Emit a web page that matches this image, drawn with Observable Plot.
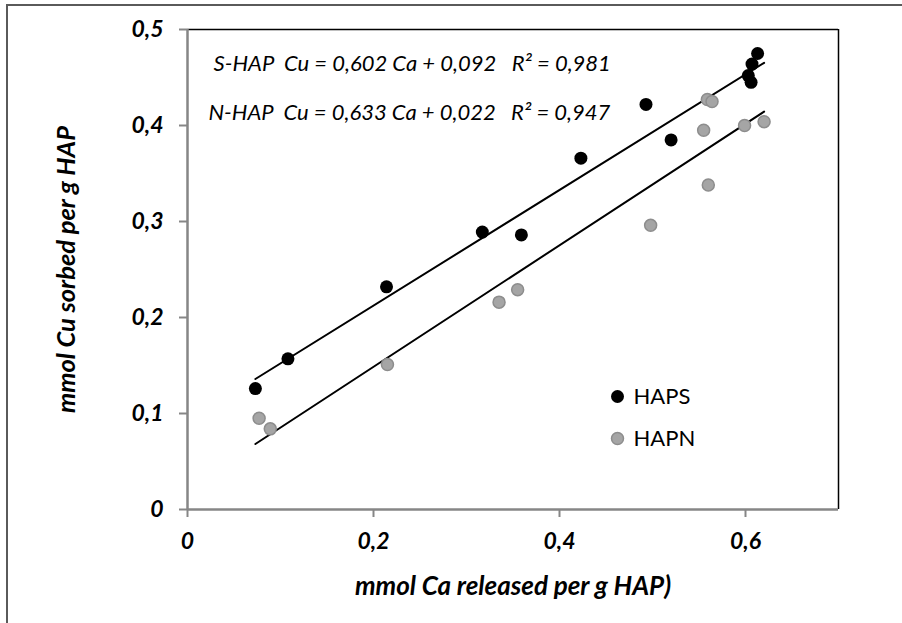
<!DOCTYPE html>
<html>
<head>
<meta charset="utf-8">
<script src="https://cdn.jsdelivr.net/npm/d3@7"></script>
<script src="https://cdn.jsdelivr.net/npm/@observablehq/plot@0.6"></script>
<style>
  html, body { margin: 0; padding: 0; background: #fff; overflow: hidden; }
  #wrap { position: relative; width: 902px; height: 623px; overflow: hidden; }
  #border { position: absolute; left: 6px; top: 4px; width: 1200px; height: 1200px;
            border-left: 2px solid #5a5a5a; border-top: 2px solid #5a5a5a; }
  #chart { position: absolute; left: 0; top: 0; }
</style>
</head>
<body>
<div id="wrap"><div id="border"></div><div id="chart"></div></div>
<script>
// ---- data ----
const hapsCa = [0.073, 0.108, 0.214, 0.317, 0.359, 0.423, 0.493, 0.520, 0.603, 0.606, 0.607, 0.613];
const hapsCu = [0.126, 0.157, 0.232, 0.289, 0.286, 0.366, 0.422, 0.385, 0.452, 0.445, 0.464, 0.475];
const hapnCa = [0.077, 0.089, 0.215, 0.335, 0.355, 0.498, 0.555, 0.560, 0.559, 0.564, 0.599, 0.620];
const hapnCu = [0.095, 0.084, 0.151, 0.216, 0.229, 0.296, 0.395, 0.338, 0.427, 0.425, 0.400, 0.404];

const seriesNames = ["HAPS", "HAPN"];
const fitNames = ["S-HAP", "N-HAP"];
const fitSlope = [0.602, 0.633];
const fitIntercept = [0.092, 0.022];
const fitXRange = [0.073, 0.620];
const equationLabels = [
  "S-HAP\u00A0\u00A0Cu = 0,602 Ca + 0,092\u00A0\u00A0\u00A0R² = 0,981",
  "N-HAP\u00A0\u00A0Cu = 0,633 Ca + 0,022\u00A0\u00A0\u00A0R² = 0,947"
];
const xTicks = [0, 0.2, 0.4, 0.6];
const yTicks = [0, 0.1, 0.2, 0.3, 0.4, 0.5];
const xTitle = "mmol Ca released per g HAP)";
const yTitle = "mmol Cu sorbed per g HAP";

// ---- tables built from the arrays ----
const haps = hapsCa.map((ca, i) => ({ca, cu: hapsCu[i], series: seriesNames[0]}));
const hapn = hapnCa.map((ca, i) => ({ca, cu: hapnCu[i], series: seriesNames[1]}));
const fits = fitNames.flatMap((name, k) =>
  fitXRange.map(x => ({name, ca: x, cu: fitSlope[k] * x + fitIntercept[k]})));

const fmt = d => d === 0 ? "0" : String(+d.toFixed(1)).replace(".", ",");
const FONT = "Lato, 'Open Sans', Arial, sans-serif";
const AXIS = "#868686";

const chart = Plot.plot({
  width: 902,
  height: 623,
  marginLeft: 187,
  marginRight: 64,
  marginTop: 29,
  marginBottom: 114,
  style: {fontFamily: FONT, background: "transparent", overflow: "visible"},
  x: {domain: [0, 0.7]},
  y: {domain: [0, 0.5]},
  marks: [
    // plot frame: top and right in black, axes in grey
    Plot.ruleY([0.5], {stroke: "#000", strokeWidth: 1.5}),
    Plot.ruleX([0.7], {stroke: "#000", strokeWidth: 1.5}),
    Plot.axisX({ticks: xTicks, tickFormat: fmt, tickSize: 8, tickPadding: 15,
      stroke: AXIS, strokeWidth: 2, fontSize: 23, fontWeight: "bold", fontStyle: "italic",
      fill: "#000", label: null}),
    Plot.axisY({ticks: yTicks, tickFormat: fmt, tickSize: 8, tickPadding: 16,
      stroke: AXIS, strokeWidth: 2, fontSize: 23, fontWeight: "bold", fontStyle: "italic",
      fill: "#000", label: null}),
    Plot.ruleY([0], {stroke: AXIS, strokeWidth: 2.5}),
    Plot.ruleX([0], {stroke: AXIS, strokeWidth: 2.5}),
    // axis titles
    Plot.text([xTitle], {frameAnchor: "bottom", dy: 77, lineAnchor: "middle", textAnchor: "middle",
      fontSize: 26, fontWeight: "bold", fontStyle: "italic", fill: "#000"}),
    Plot.text([yTitle], {frameAnchor: "left", dx: -121, rotate: -90, textAnchor: "middle",
      lineAnchor: "middle", fontSize: 25.5, fontWeight: "bold", fontStyle: "italic", fill: "#000"}),
    // regression lines
    Plot.line(fits, {x: "ca", y: "cu", z: "name", stroke: "#000", strokeWidth: 2}),
    // points
    Plot.dot(hapn, {x: "ca", y: "cu", r: 6, fill: "#a5a5a5", stroke: "#8d8d8d", strokeWidth: 1.5}),
    Plot.dot(haps, {x: "ca", y: "cu", r: 6.5, fill: "#000", stroke: "none"}),
    // equations
    Plot.text([equationLabels[0]], {frameAnchor: "top-left", dx: 26, dy: 34, lineAnchor: "middle",
      fontSize: 22, fontStyle: "italic", textAnchor: "start", fill: "#000"}),
    Plot.text([equationLabels[1]], {frameAnchor: "top-left", dx: 21, dy: 83, lineAnchor: "middle",
      fontSize: 22, fontStyle: "italic", textAnchor: "start", fill: "#000"}),
    // legend
    Plot.dot([seriesNames[0]], {frameAnchor: "top-left", dx: 430, dy: 367, r: 6.5, fill: "#000"}),
    Plot.dot([seriesNames[1]], {frameAnchor: "top-left", dx: 430, dy: 409, r: 6, fill: "#a5a5a5",
      stroke: "#8d8d8d", strokeWidth: 1.5}),
    Plot.text([seriesNames[0]], {frameAnchor: "top-left", dx: 446, dy: 367, lineAnchor: "middle",
      fontSize: 22, textAnchor: "start", fill: "#000"}),
    Plot.text([seriesNames[1]], {frameAnchor: "top-left", dx: 446, dy: 409, lineAnchor: "middle",
      fontSize: 22, textAnchor: "start", fill: "#000"})
  ]
});
document.getElementById("chart").appendChild(chart);
</script>
</body>
</html>
